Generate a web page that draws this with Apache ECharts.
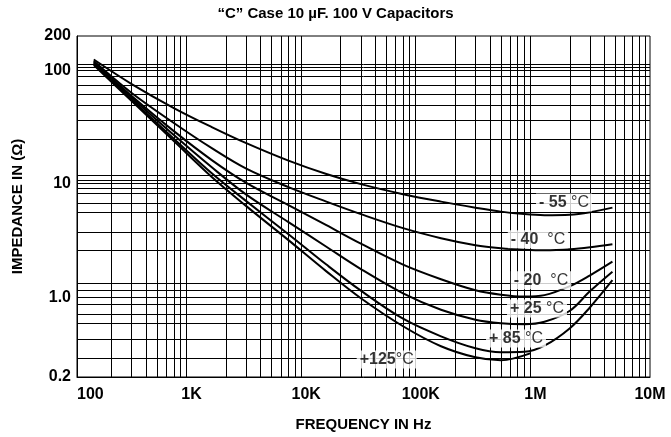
<!DOCTYPE html>
<html>
<head>
<meta charset="utf-8">
<script src="https://cdn.jsdelivr.net/npm/echarts@6/dist/echarts.min.js"></script>
<style>html,body{margin:0;padding:0;background:#fff}#c{width:671px;height:437px}</style>
</head>
<body>
<div id="c"></div>
<script>
// ---- data ----
const titleText = '\u201CC\u201D Case 10 \u00B5F. 100 V Capacitors';
const xTickLabels = ['100', '1K', '10K', '100K', '1M', '10M'];
const xGridValues = [200,300,400,500,600,700,800,900,
  2000,3000,4000,5000,6000,7000,8000,9000,
  20000,30000,40000,50000,60000,70000,80000,90000,
  200000,300000,400000,500000,600000,700000,800000,900000,
  2e6,3e6,4e6,5e6,6e6,7e6,8e6,9e6];
const yGridValues = [112.7,105.2,99,87.7,73.6,61.7,49.4,36.5,24.8,
  11.8,10.8,10.1,9.18,8.24,6.78,5.65,3.79,2.61,
  1.33,1.16,1.01,0.869,0.724,0.592,0.428,0.287];

const freq = [140,300,700,1500,3000,7000,15000,30000,70000,150000,300000,500000,800000,1200000,2000000,3000000,4700000];
const zM55 = [124.2,75.6,46.5,31.6,22.8,16.0,12.2,9.95,8.12,6.98,6.18,5.70,5.42,5.31,5.36,5.64,6.18];
const zM40 = [120.4,63.0,34.3,20.6,13.6,9.36,6.98,5.42,4.08,3.33,2.89,2.72,2.64,2.61,2.66,2.77,2.95];
const zM20 = [118.1,59.3,29.1,16.2,10.2,6.50,4.33,2.98,1.95,1.45,1.16,1.06,1.02,1.05,1.26,1.57,2.07];
const zP25 = [115.7,57.5,26.9,14.0,8.04,4.61,2.80,1.78,1.09,0.781,0.638,0.594,0.582,0.612,0.766,1.14,1.69];
const zP85 = [113.4,55.2,25.0,12.4,7.05,3.61,1.95,1.15,0.651,0.456,0.358,0.330,0.333,0.377,0.537,0.822,1.42];
const freq125 = [140,300,700,1500,3000,7000,15000,30000,70000,150000,300000,500000,900000];
const zP125 = [111.1,53.5,23.8,11.5,6.37,3.20,1.70,0.986,0.559,0.373,0.298,0.281,0.323];

const curveLabels = ['- 55', '- 40 ', '- 20 ', '+ 25', '+ 85', '+125'];
const labelFreq = [1776000, 1054000, 1119000, 1033000, 677000, 50400];
const labelImp = [6.87, 3.26, 1.42, 0.80, 0.436, 0.285];

// ---- chart ----
const FONT = 'Liberation Sans, Arial, sans-serif';
const chart = echarts.init(document.getElementById('c'), null, {renderer: 'canvas'});

function curve(xs, ys) { return xs.map((x, i) => [x, ys[i]]); }
const curveSeries = [zM55, zM40, zM20, zP25, zP85].map(z => ({
  type: 'line', data: curve(freq, z), smooth: 0.35, showSymbol: false, silent: true,
  lineStyle: {color: '#000', width: 2}, z: 5
}));
curveSeries.push({
  type: 'line', data: curve(freq125, zP125), smooth: 0.35, showSymbol: false, silent: true,
  lineStyle: {color: '#000', width: 2}, z: 5
});

const option = {
  animation: false,
  backgroundColor: '#fff',
  title: {
    text: titleText, left: 'center', top: 1,
    textStyle: {fontFamily: FONT, fontSize: 15, fontWeight: 'bold', color: '#000'}
  },
  grid: {left: 77, right: 21, top: 36, bottom: 60, containLabel: false, outerBoundsMode: 'none',
    show: true, borderColor: '#000', borderWidth: 1, backgroundColor: 'transparent'},
  xAxis: {
    type: 'log', logBase: 10, min: 100, max: 1e7,
    name: 'FREQUENCY IN Hz', nameLocation: 'middle', nameGap: 40,
    nameTextStyle: {fontFamily: FONT, fontSize: 15, fontWeight: 'bold', color: '#000'},
    axisLine: {show: true, lineStyle: {color: '#000', width: 1}},
    axisTick: {show: false}, splitLine: {show: false}, minorTick: {show: false},
    axisLabel: {
      fontFamily: FONT, fontSize: 16, fontWeight: 'bold', color: '#000', margin: 10,
      showMinLabel: true, showMaxLabel: true, alignMinLabel: 'left',
      formatter: v => xTickLabels[Math.round(Math.log10(v)) - 2]
    }
  },
  yAxis: {
    type: 'log', logBase: 10, min: 0.2, max: 200,
    name: 'IMPEDANCE IN (\u03A9)', nameLocation: 'middle', nameGap: 52, nameRotate: 90,
    nameTextStyle: {fontFamily: FONT, fontSize: 15, fontWeight: 'bold', color: '#000'},
    axisLine: {show: true, lineStyle: {color: '#000', width: 1}},
    axisTick: {show: false}, splitLine: {show: false}, minorTick: {show: false},
    axisLabel: {
      fontFamily: FONT, fontSize: 16, fontWeight: 'bold', color: '#000', margin: 6,
      showMinLabel: true, showMaxLabel: true,
      formatter: v => Math.abs(v - 1) < 1e-9 ? '1.0' : String(+v.toPrecision(3))
    }
  },
  series: [
    {
      type: 'line', data: [], silent: true, z: 1,
      markLine: {
        silent: true, symbol: ['none', 'none'], animation: false,
        label: {show: false},
        lineStyle: {color: '#000', width: 1, type: 'solid'},
        emphasis: {disabled: true},
        data: xGridValues.map(v => ({xAxis: v})).concat(yGridValues.map(v => ({yAxis: v})))
      }
    },
    ...curveSeries,
    {
      type: 'scatter', symbolSize: 0, silent: true, z: 10,
      data: labelFreq.map((f, i) => [f, labelImp[i], curveLabels[i]]),
      label: {
        show: true, position: 'inside', backgroundColor: '#fff', padding: [1, 3],
        formatter: p => '{b|' + p.data[2] + '}{n|' + (p.data[2] === '+125' ? '' : ' ') + '\u00B0C}',
        rich: {
          b: {fontFamily: FONT, fontSize: 16, fontWeight: 'bold', color: '#000'},
          n: {fontFamily: FONT, fontSize: 16, fontWeight: 'normal', color: '#000'}
        }
      }
    }
  ]
};
chart.setOption(option);
</script>
</body>
</html>
